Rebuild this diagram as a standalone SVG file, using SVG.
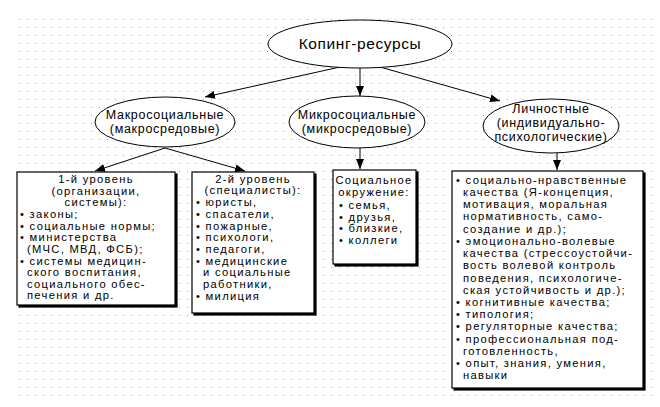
<svg xmlns="http://www.w3.org/2000/svg" width="660" height="407" viewBox="0 0 660 407">
<defs>
<pattern id="dots" x="0" y="0" width="8" height="8" patternUnits="userSpaceOnUse"><rect x="3" y="3" width="1" height="1" fill="#a8a8a8"/></pattern>
<marker id="ah" viewBox="0 0 10 8" refX="10" refY="4" markerWidth="10" markerHeight="8" orient="auto" markerUnits="userSpaceOnUse"><path d="M0,0 L10,4 L0,8 z" fill="#000"/></marker>
<filter id="sh" x="-5%" y="-5%" width="115%" height="115%"><feOffset dx="2" dy="2" in="SourceAlpha" result="o"/><feMerge><feMergeNode in="o"/><feMergeNode in="SourceGraphic"/></feMerge></filter>
</defs>
<style>
text{font-family:"Liberation Sans",Arial,sans-serif;font-size:11.2px;letter-spacing:1.3px;fill:#000}
.c{text-anchor:middle}
.n{fill:#fff;stroke:#000;stroke-width:1}
.b{fill:#fff;stroke:#000;stroke-width:1.2;filter:url(#sh)}
.e{font-size:12.5px;letter-spacing:0.7px}
line{stroke:#000;stroke-width:1;marker-end:url(#ah)}
</style>
<rect x="15" y="18" width="640" height="385" fill="#fff"/>
<rect x="15" y="18" width="640" height="385" fill="url(#dots)"/>
<g id="connectors">
<line x1="340" y1="67" x2="205" y2="97"/>
<line x1="360" y1="67" x2="360" y2="96"/>
<line x1="380" y1="67" x2="500" y2="101"/>
<line x1="165" y1="148" x2="95" y2="171"/>
<line x1="165" y1="148" x2="245" y2="171"/>
<line x1="360" y1="148" x2="360" y2="169"/>
<line x1="557" y1="153" x2="557" y2="170"/>
</g>
<g id="root"><ellipse class="n" cx="360" cy="44" rx="92" ry="24"/><text class="c" x="360" y="49" style="font-size:15.5px;letter-spacing:0.6px">Копинг-ресурсы</text></g>
<g id="macro"><ellipse class="n" cx="165" cy="122" rx="70" ry="25"/><text class="c e" x="165" y="119">Макросоциальные</text><text class="c e" x="165" y="133">(макросредовые)</text></g>
<g id="micro"><ellipse class="n" cx="357" cy="122" rx="68" ry="26"/><text class="c e" x="357" y="119">Микросоциальные</text><text class="c e" x="357" y="133">(микросредовые)</text></g>
<g id="personal"><ellipse class="n" cx="551" cy="126" rx="68" ry="27"/><text class="c e" x="551" y="113">Личностные</text><text class="c e" x="551" y="127">(индивидуально-</text><text class="c e" x="551" y="141">психологические)</text></g>
<g id="level1"><rect class="b" x="17" y="172" width="158" height="133"/>
<text class="c" x="96" y="183">1-й уровень</text><text class="c" x="96" y="195">(организации,</text><text class="c" x="96" y="206">системы):</text>
<text x="20" y="218">• законы;</text><text x="20" y="230">• социальные нормы;</text><text x="20" y="241">• министерства</text><text x="27" y="253">(МЧС, МВД, ФСБ);</text><text x="20" y="265">• системы медицин-</text><text x="27" y="276">ского воспитания,</text><text x="27" y="288">социального обес-</text><text x="27" y="299">печения и др.</text></g>
<g id="level2"><rect class="b" x="192" y="172" width="122" height="141"/>
<text class="c" x="253" y="183">2-й уровень</text><text class="c" x="253" y="194">(специалисты):</text>
<text x="196" y="206">• юристы,</text><text x="196" y="218">• спасатели,</text><text x="196" y="230">• пожарные,</text><text x="196" y="241">• психологи,</text><text x="196" y="253">• педагоги,</text><text x="196" y="265">• медицинские</text><text x="203" y="276">и социальные</text><text x="203" y="288">работники,</text><text x="196" y="300">• милиция</text></g>
<g id="social"><rect class="b" x="333" y="170" width="83" height="94"/>
<text class="c" x="374" y="184">Социальное</text><text class="c" x="374" y="196">окружение:</text>
<text x="339" y="209">• семья,</text><text x="339" y="221">• друзья,</text><text x="339" y="232">• близкие,</text><text x="339" y="244">• коллеги</text></g>
<g id="qualities"><rect class="b" x="452" y="171" width="191" height="217"/>
<text x="456" y="184">• социально-нравственные</text><text x="463" y="196">качества (Я-концепция,</text><text x="463" y="208">мотивация, моральная</text><text x="463" y="220">нормативность, само-</text><text x="463" y="233">создание и др.);</text>
<text x="456" y="245">• эмоционально-волевые</text><text x="463" y="257">качества (стрессоустойчи-</text><text x="463" y="269">вость волевой контроль</text><text x="463" y="282">поведения, психологиче-</text><text x="463" y="294">ская устойчивость и др.);</text>
<text x="456" y="306">• когнитивные качества;</text><text x="456" y="318">• типология;</text><text x="456" y="330">• регуляторные качества;</text><text x="456" y="343">• профессиональная под-</text><text x="463" y="355">готовленность,</text><text x="456" y="367">• опыт, знания, умения,</text><text x="463" y="379">навыки</text></g>
</svg>
